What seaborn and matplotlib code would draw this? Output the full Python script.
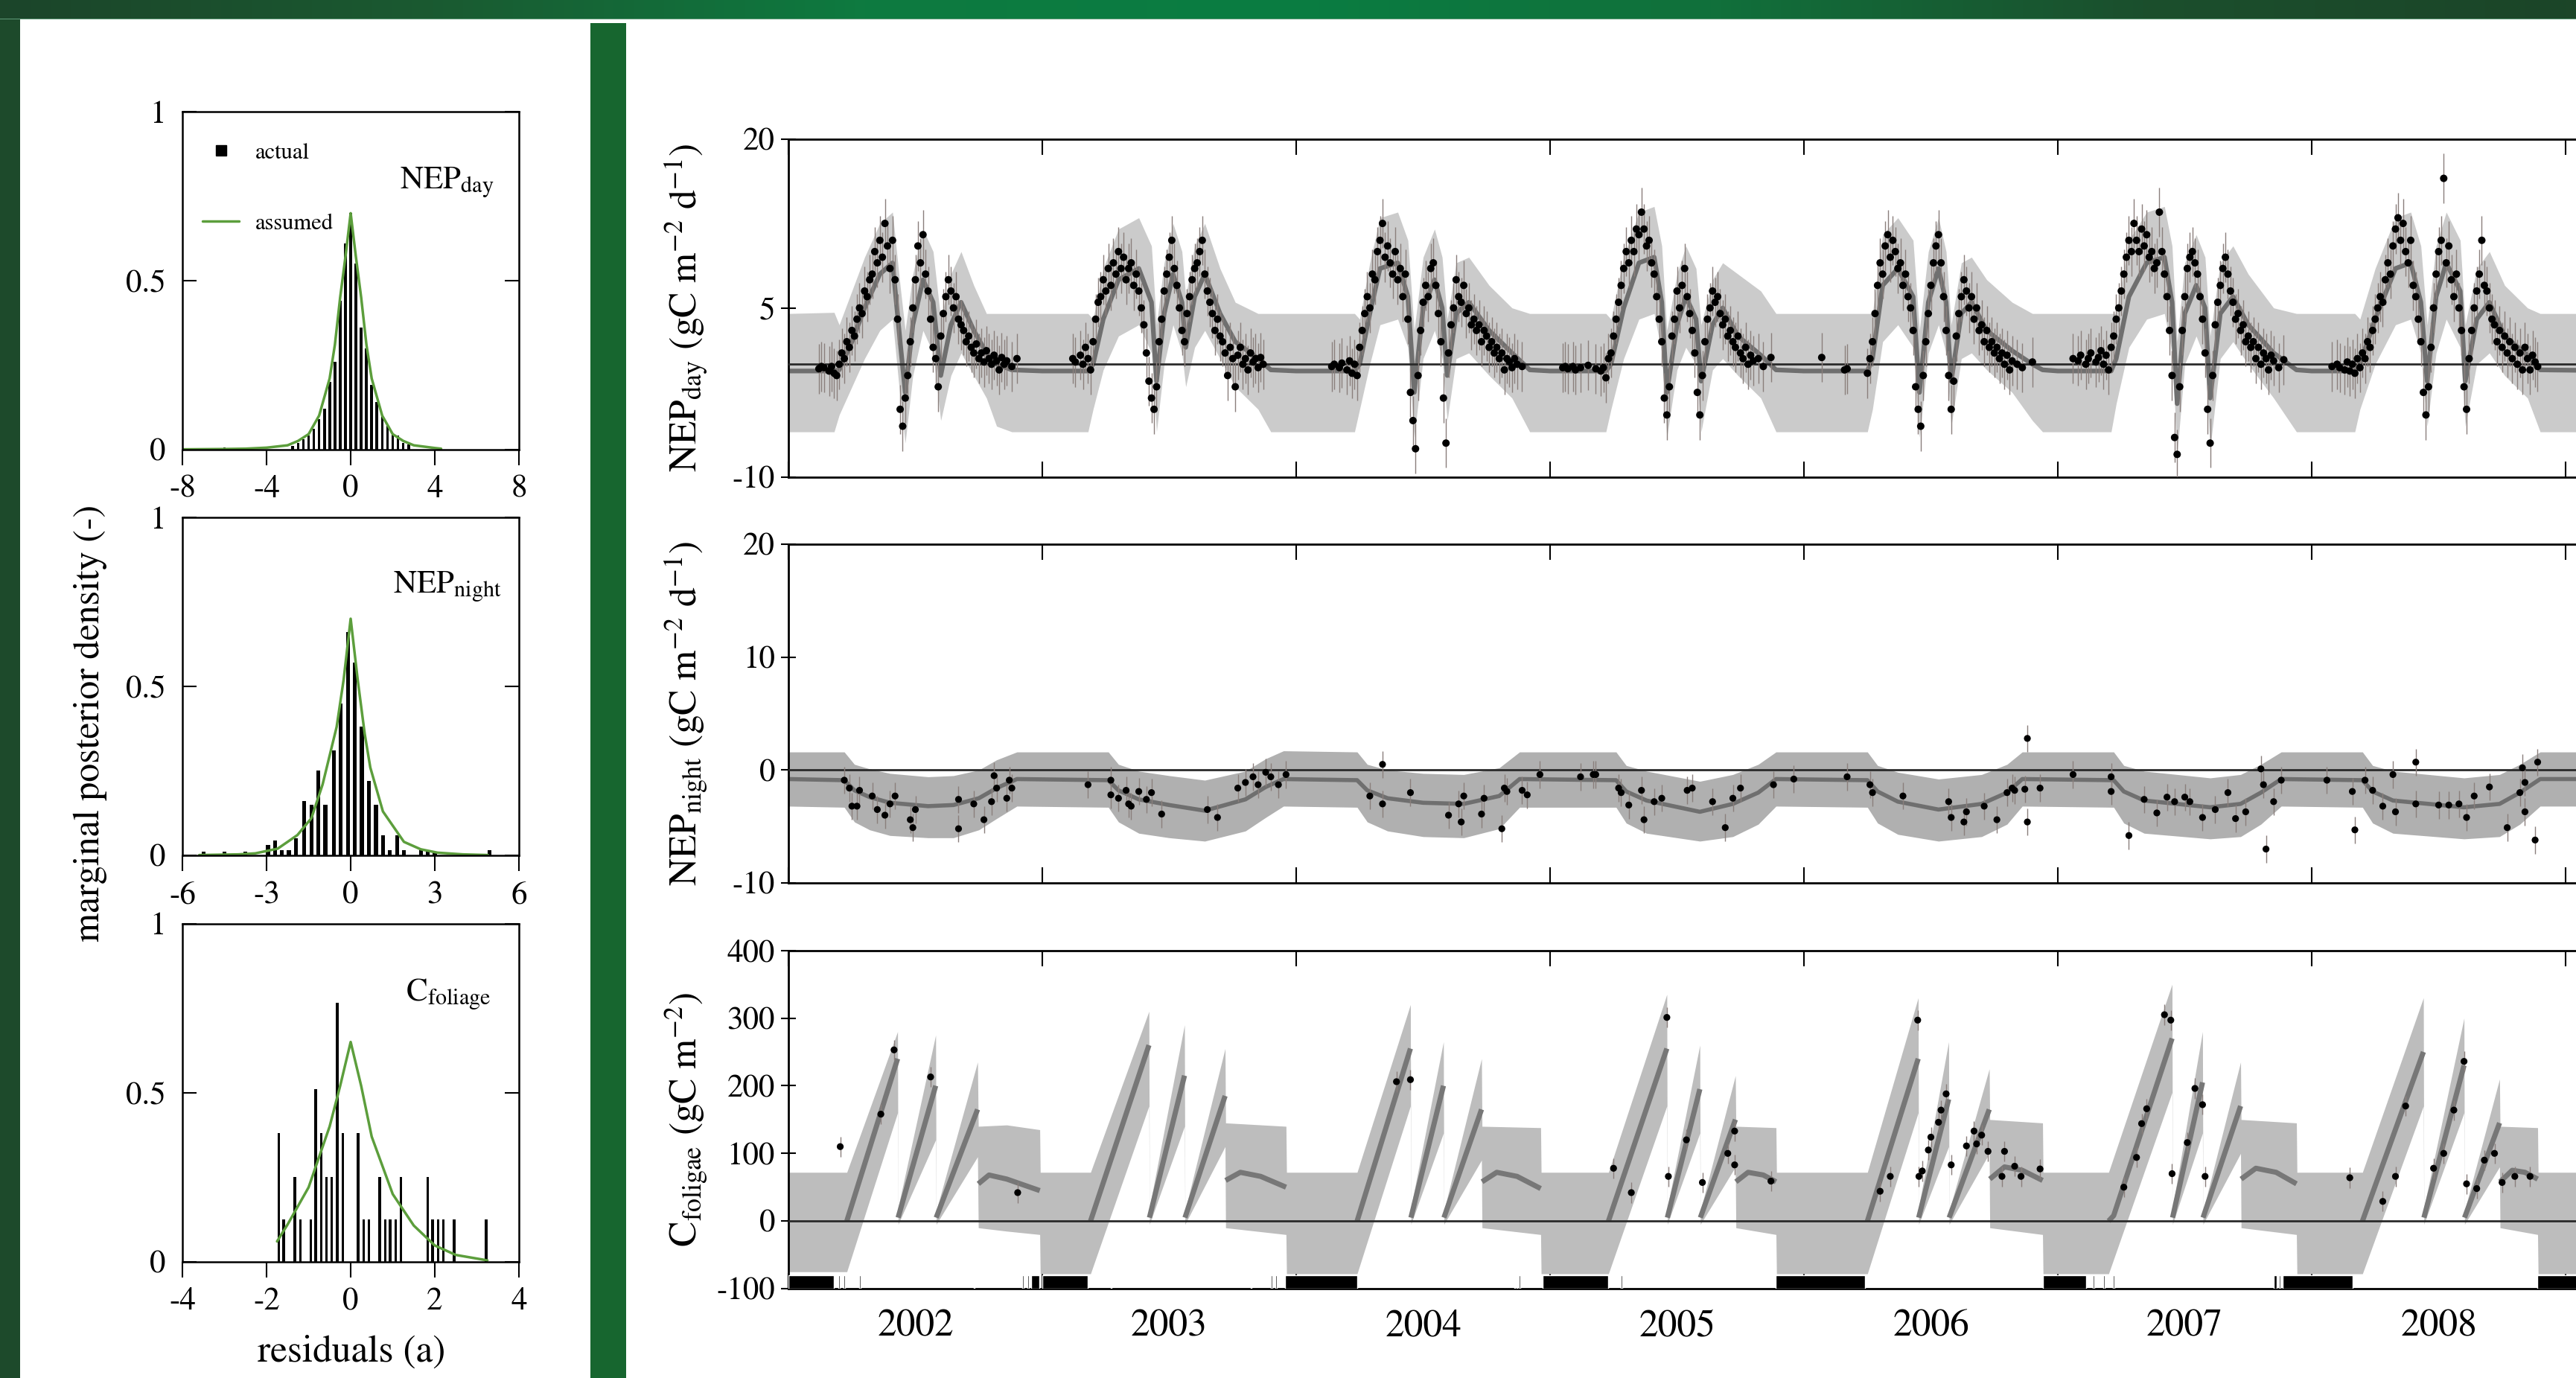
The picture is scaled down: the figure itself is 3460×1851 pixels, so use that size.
import numpy as np
import matplotlib
matplotlib.use("Agg")
import matplotlib.pyplot as plt
import seaborn as sns
from matplotlib.patches import Rectangle
from matplotlib.lines import Line2D
from matplotlib.colors import LinearSegmentedColormap

nan = np.nan

# ---------------- left panel: residual histograms ----------------
hday_x = [-6.0, -2.75, -2.5, -2.25, -2.0, -1.75, -1.5, -1.25, -1.0, -0.75, -0.5, -0.25, 0.0,
          0.25, 0.5, 0.75, 1.0, 1.25, 1.5, 1.75, 2.0, 2.25, 2.5, 2.75]
hday_h = [0.005, 0.01, 0.02, 0.03, 0.04, 0.06, 0.09, 0.12, 0.20, 0.26, 0.44, 0.61, 0.70,
          0.55, 0.36, 0.30, 0.19, 0.14, 0.10, 0.07, 0.045, 0.04, 0.02, 0.015]
cday_x = [-8, -6, -5, -4, -3, -2.5, -2, -1.5, -1, -0.75, -0.5, -0.25, 0, 0.25, 0.5, 0.75, 1,
          1.5, 2, 2.5, 3, 4, 4.3]
cday_y = [0.0, 0.001, 0.002, 0.005, 0.012, 0.025, 0.045, 0.10, 0.21, 0.31, 0.45, 0.57, 0.70,
          0.57, 0.45, 0.31, 0.21, 0.10, 0.045, 0.025, 0.012, 0.004, 0.002]

hnight_x = [-5.25, -4.5, -3.75, -2.95, -2.7, -2.45, -2.2, -1.95, -1.65, -1.4, -1.15, -0.9, -0.6,
            -0.35, -0.1, 0.15, 0.4, 0.65, 0.9, 1.15, 1.4, 1.65, 1.9, 2.5, 2.75, 3.0, 4.95]
hnight_h = [0.01, 0.01, 0.01, 0.03, 0.045, 0.015, 0.015, 0.05, 0.16, 0.15, 0.25, 0.15, 0.31,
            0.45, 0.66, 0.57, 0.38, 0.22, 0.15, 0.06, 0.015, 0.06, 0.015, 0.015, 0.01, 0.01, 0.015]
cnight_x = [-5.4, -4, -3.4, -2.6, -1.9, -1.4, -1.0, -0.5, -0.25, 0, 0.25, 0.5, 0.7, 1.15, 1.9,
            2.5, 3.1, 4, 4.9]
cnight_y = [0.001, 0.003, 0.006, 0.02, 0.06, 0.11, 0.21, 0.38, 0.52, 0.70, 0.52, 0.36, 0.26,
            0.13, 0.04, 0.018, 0.008, 0.003, 0.001]

hfol_x = [-1.71, -1.59, -1.33, -1.2, -0.95, -0.83, -0.7, -0.58, -0.45, -0.32, -0.19, 0.18, 0.31,
          0.43, 0.69, 0.82, 0.94, 1.07, 1.19, 1.83, 1.95, 2.08, 2.2, 2.46, 3.22]
hfol_h = [0.38, 0.125, 0.25, 0.125, 0.125, 0.51, 0.38, 0.25, 0.25, 0.765, 0.38, 0.38, 0.125,
          0.125, 0.25, 0.125, 0.125, 0.125, 0.25, 0.25, 0.125, 0.125, 0.125, 0.125, 0.125]
cfol_x = [-1.75, -1.5, -1.0, -0.5, -0.25, 0, 0.25, 0.5, 1.0, 1.5, 2.0, 2.5, 3.25]
cfol_y = [0.06, 0.11, 0.22, 0.40, 0.52, 0.65, 0.52, 0.37, 0.20, 0.107, 0.048, 0.02, 0.004]

# ---------------- right panel: time series ----------------
year_edges = [2002, 2003, 2004, 2005, 2006, 2007, 2008, 2009]
year_labels = ["2002", "2003", "2004", "2005", "2006", "2007", "2008"]

# NEP_day: prediction band (light), model (dark)
day_t = [2002.00, 2002.18, 2002.20, 2002.25, 2002.30, 2002.36, 2002.41, 2002.44, 2002.46, 2002.49, 2002.53, 2002.57, 2002.60, 2002.64, 2002.68, 2002.73, 2002.78, 2002.82, 2002.88,
         2003.00, 2003.18, 2003.20, 2003.24, 2003.30, 2003.38, 2003.43, 2003.45, 2003.48, 2003.515, 2003.55, 2003.565, 2003.60, 2003.64, 2003.70, 2003.76, 2003.85, 2003.90,
         2004.00, 2004.23, 2004.25, 2004.29, 2004.33, 2004.40, 2004.44, 2004.465, 2004.50, 2004.545, 2004.575, 2004.595, 2004.63, 2004.68, 2004.76, 2004.85, 2004.92,
         2005.00, 2005.22, 2005.24, 2005.29, 2005.35, 2005.41, 2005.44, 2005.46, 2005.50, 2005.535, 2005.575, 2005.595, 2005.64, 2005.68, 2005.74, 2005.83, 2005.89,
         2006.00, 2006.25, 2006.27, 2006.31, 2006.37, 2006.43, 2006.455, 2006.49, 2006.53, 2006.56, 2006.58, 2006.62, 2006.66, 2006.72, 2006.82, 2006.90, 2006.94,
         2007.00, 2007.21, 2007.23, 2007.28, 2007.35, 2007.42, 2007.45, 2007.47, 2007.50, 2007.545, 2007.58, 2007.60, 2007.64, 2007.69, 2007.75, 2007.85, 2007.94,
         2008.00, 2008.17, 2008.19, 2008.25, 2008.33, 2008.39, 2008.43, 2008.455, 2008.49, 2008.53, 2008.585, 2008.605, 2008.65, 2008.70, 2008.76, 2008.85, 2008.90, 2009.30]
day_lo = [-6.0, -6.0, -4.5, -2.0, 0.5, 3.0, 4.0, -3.0, -7.0, -1.0, 3.0, 1.0, -5.0, -1.0, 1.0, -1.0, -3.0, -5.5, -6.0,
          -6.0, -6.0, -4.0, -0.5, 2.5, 3.5, 1.0, -6.0, 0.0, 3.5, 1.0, -2.0, 1.5, 3.0, 0.5, -2.0, -4.0, -6.0,
          -6.0, -6.0, -4.0, 0.0, 3.5, 4.0, 1.5, -6.5, 0.5, 3.0, 0.5, -5.0, 0.5, 1.0, -1.0, -3.0, -6.0,
          -6.0, -6.0, -4.0, 0.5, 4.0, 4.5, 1.0, -6.5, -0.5, 1.5, 0.0, -6.0, -0.5, 0.5, -1.0, -3.0, -6.0,
          -6.0, -6.0, -4.0, 2.0, 3.5, 1.5, -6.5, 1.0, 3.5, 1.0, -5.5, 0.5, 1.0, -0.5, -2.5, -5.0, -6.0,
          -6.0, -6.0, -3.5, 1.5, 4.0, 4.5, 1.0, -8.0, 0.0, 2.5, 0.5, -7.5, 0.5, 2.0, 0.0, -3.0, -6.0,
          -6.0, -6.0, -4.0, 0.0, 3.5, 4.0, 1.0, -5.5, 1.0, 4.0, 1.5, -5.5, 0.0, 1.0, -1.0, -3.0, -6.0, -6.0]
day_hi = [4.5, 4.6, 3.5, 6.5, 9.5, 12.5, 13.5, 7.0, 3.0, 8.0, 12.0, 10.0, 4.0, 8.0, 10.0, 7.0, 4.5, 4.5, 4.5,
          4.5, 4.5, 4.0, 8.5, 12.0, 13.0, 10.5, 3.5, 9.0, 12.5, 10.0, 6.0, 10.5, 12.5, 8.5, 5.5, 4.5, 4.5,
          4.5, 4.5, 4.0, 9.0, 13.0, 13.5, 11.0, 3.0, 9.5, 12.0, 9.5, 4.0, 9.0, 9.5, 7.0, 5.0, 4.5,
          4.5, 4.5, 4.0, 9.5, 13.5, 14.0, 10.5, 3.0, 8.0, 10.5, 8.5, 3.5, 7.5, 9.0, 8.0, 6.5, 4.5,
          4.5, 4.5, 4.5, 11.5, 13.0, 11.0, 3.0, 10.0, 13.0, 10.0, 3.5, 9.0, 9.5, 7.5, 5.5, 4.5, 4.5,
          4.5, 4.5, 4.5, 11.0, 13.5, 14.0, 10.5, 2.0, 9.0, 11.5, 9.5, 2.5, 9.0, 10.5, 8.0, 5.0, 4.5,
          4.5, 4.5, 4.0, 8.5, 13.0, 13.5, 10.5, 3.5, 10.5, 13.5, 11.0, 3.5, 8.5, 10.0, 7.0, 5.0, 4.5, 4.5]
day_mod = [-0.6, -0.6, -0.5, 2.0, 5.0, 8.0, 9.0, 2.0, -2.5, 3.5, 7.5, 5.5, -1.0, 3.5, 5.5, 3.0, 1.0, 0.0, -0.5,
           -0.6, -0.6, 0.0, 4.0, 7.5, 8.5, 5.5, -1.5, 4.5, 8.0, 5.5, 1.5, 6.0, 8.0, 4.5, 2.0, 0.5, -0.5,
           -0.6, -0.6, 0.0, 4.5, 8.5, 9.0, 6.0, -2.5, 5.0, 7.5, 5.0, -1.0, 4.5, 5.5, 3.0, 1.0, -0.5,
           -0.6, -0.6, 0.0, 5.0, 9.0, 9.5, 5.5, -2.5, 3.5, 6.0, 4.0, -1.5, 3.5, 5.0, 2.5, 0.8, -0.5,
           -0.6, -0.6, 0.5, 7.0, 8.5, 6.0, -2.5, 5.5, 8.5, 5.5, -1.5, 4.5, 5.5, 3.0, 1.2, 0.0, -0.5,
           -0.6, -0.6, 0.5, 6.0, 9.0, 9.5, 5.5, -3.5, 4.5, 7.0, 5.0, -3.0, 4.5, 6.0, 3.5, 1.0, -0.5,
           -0.6, -0.6, 0.0, 4.0, 8.5, 9.0, 5.5, -1.5, 6.0, 9.0, 6.5, -1.5, 4.0, 5.5, 2.5, 0.8, -0.5, -0.6]

# NEP_day observations (sampled every 0.01 yr from the given start; nan = gap)
day_obs_start = [2002.12, 2003.12, 2004.14, 2005.05, 2006.07, 2007.06, 2008.08]
day_obs_2002 = [-0.4, -0.2, -0.3, nan, -0.6, -0.2, -0.8, -1.0, 0.0, 1.0,
                0.5, 2.0, 1.5, 3.0, 2.5, 4.0, 5.0, 4.5, 6.5, 6.0,
                7.5, 8.0, 10.0, 9.0, 11.0, 9.5, 12.5, 10.5, 8.5, 11.0,
                7.5, 4.0, -4.0, -5.5, -3.0, -1.0, 2.0, 5.0, 7.5, 10.5,
                9.0, 11.5, 8.0, 6.5, 4.0, 1.5, 0.5, -2.0, 2.5, 4.5,
                6.0, 7.5, 6.5, 5.0, 6.0, 4.0, 3.5, 3.0, 2.0, 2.5,
                1.5, 1.0, 1.8, 0.5, 1.0, 0.2, 1.2, 0.5, 0.0, 0.8,
                0.3, -0.5, 0.6, 0.0, 0.3, nan, -0.2, nan, 0.5]
day_obs_2003 = [0.5, 0.2, nan, 0.8, 0.0, 1.5, 0.5, -0.5, 2.0, 4.0,
                5.5, 6.0, 7.5, 6.5, 8.5, 7.0, 9.0, 8.0, 10.0, 8.5,
                9.5, 7.5, 8.5, 9.0, 7.0, 8.0, 6.5, 5.0, 3.5, 1.0,
                -1.5, -3.0, -4.0, -2.0, 2.0, 4.0, 6.5, 8.0, 9.5, 11.0,
                8.5, 7.0, 5.0, 3.0, 2.0, 4.5, 6.0, 7.5, 8.5, 9.0,
                10.0, 11.0, 8.0, 6.5, 5.5, 4.5, 3.0, 4.0, 2.5, 2.0,
                1.0, -1.0, 1.5, 0.5, -2.0, 0.8, 1.5, 0.0, 0.5, -0.5,
                1.0, 0.2, 0.5, -0.3, 0.6, 0.0]
day_obs_2004 = [-0.2, 0.0, nan, -0.3, 0.1, nan, -0.5, 0.3, -0.8, 0.0,
                -1.0, 1.5, 3.0, 4.5, 6.0, 5.0, 8.0, 7.5, 10.0, 11.0,
                12.5, 9.5, 10.5, 9.0, 8.0, 10.0, 7.5, 8.5, 6.0, 8.0,
                4.0, -2.5, -5.0, -7.5, -1.0, 3.0, 5.5, 7.0, 6.0, 8.5,
                9.0, 7.0, 4.5, 2.0, -3.0, -7.0, 1.0, 3.5, 5.0, 7.5,
                6.0, 5.5, 7.0, 4.5, 5.0, 3.5, 4.0, 3.0, 3.5, 2.0,
                3.0, 2.5, 1.5, 2.0, 1.0, 1.5, 0.5, 1.0, -0.5, 0.5,
                0.2, -0.3, 0.5, 0.0, nan, -0.2]
day_obs_2005 = [-0.3, -0.2, -0.4, nan, -0.2, -0.5, nan, -0.3, nan, nan,
                -0.1, nan, nan, -0.4, nan, -0.6, -0.3, -1.2, 0.5, 1.0,
                2.5, 4.0, 5.5, 7.0, 8.5, 10.0, 9.0, 11.0, 10.0, 12.0,
                11.5, 13.5, 12.0, 10.5, 11.0, 9.0, 8.0, 6.0, 4.0, 2.0,
                -3.0, -4.5, -2.0, 2.5, 4.0, 6.5, 5.0, 7.0, 8.5, 6.0,
                4.5, 3.0, 1.0, -2.5, -4.5, -1.0, 2.0, 4.0, 5.0, 6.5,
                5.5, 6.0, 4.5, 3.5, 4.0, 2.5, 3.0, 2.0, 1.5, 2.5,
                1.0, 0.5, 1.5, 0.0, 0.8, 0.3, nan, 0.5, nan, -0.2,
                nan, nan, 0.6]
day_obs_2006 = [0.6, nan, nan, nan, nan, nan, nan, nan, nan, -0.5,
                -0.4, nan, nan, nan, nan, nan, nan, nan, -0.8, 0.5,
                2.0, 4.5, 7.0, 9.0, 8.0, 10.5, 11.5, 9.5, 11.0, 10.0,
                8.5, 9.0, 7.0, 8.0, 6.0, 5.0, 3.0, -2.0, -4.0, -5.5,
                -1.0, 2.0, 4.5, 7.0, 9.0, 10.5, 11.5, 9.0, 6.0, 3.0,
                -1.0, -4.0, -1.5, 2.5, 4.5, 6.0, 7.5, 6.5, 5.0, 6.0,
                4.0, 5.0, 3.0, 3.5, 2.0, 3.0, 1.5, 2.0, 1.0, 1.5,
                0.5, 1.0, 0.0, 0.8, -0.5, 0.3, nan, 0.0, nan, -0.3,
                nan, nan, nan, 0.2]
day_obs_2007 = [0.5, nan, 0.3, 0.8, nan, 0.0, 0.5, 1.0, nan, 0.2,
                0.6, 1.2, 0.0, 0.8, -0.5, 1.5, 2.5, 4.0, 5.0, 6.5,
                8.0, 9.5, 11.0, 10.0, 12.5, 11.0, 10.0, 12.0, 10.5, 11.5,
                9.5, 10.0, 8.5, 9.0, 13.5, 10.0, 8.0, 6.0, 3.0, -1.0,
                -6.5, -8.0, -2.0, 3.0, 6.0, 8.5, 9.5, 10.0, 9.0, 8.0,
                6.0, 4.0, 1.0, -4.0, -7.0, -1.0, 3.5, 5.5, 7.0, 8.5,
                9.5, 8.0, 6.5, 5.5, 4.0, 4.5, 3.0, 3.5, 2.0, 2.5,
                1.5, 2.0, 0.5, 1.5, 0.0, 1.0, 0.5, -0.5, 0.8, 0.3,
                nan, -0.3, nan, 0.4]
day_obs_2008 = [-0.2, nan, 0.0, -0.3, nan, -0.5, 0.2, -0.6, 0.0, -0.8,
                0.5, -0.3, 1.0, 0.5, 2.0, 1.5, 3.0, 4.0, 5.0, 6.0,
                5.5, 7.5, 9.0, 8.0, 10.5, 12.0, 13.0, 11.0, 12.5, 10.0,
                9.0, 11.0, 7.0, 6.0, 4.0, 2.0, -2.5, -4.5, -2.0, 1.5,
                5.0, 8.0, 10.0, 11.0, 16.5, 9.0, 10.5, 7.5, 6.0, 8.0,
                5.0, 3.0, -2.0, -4.0, 0.5, 3.0, 5.0, 6.5, 8.0, 11.0,
                7.0, 6.5, 5.0, 4.0, 3.5, 2.0, 3.0, 1.5, 2.5, 1.0,
                2.0, 0.5, 1.5, 0.0, 1.0, -0.5, 1.5, 0.5, -0.5, 0.8,
                0.2, -0.2]
day_err = 2.2

# NEP_night
night_t = [2002.00, 2002.22, 2002.26, 2002.32, 2002.40, 2002.55, 2002.65, 2002.75, 2002.82, 2002.90,
           2003.26, 2003.30, 2003.38, 2003.50, 2003.64, 2003.80, 2003.88, 2003.95,
           2004.24, 2004.28, 2004.36, 2004.50, 2004.66, 2004.80, 2004.88,
           2005.26, 2005.30, 2005.38, 2005.59, 2005.72, 2005.82, 2005.89,
           2006.25, 2006.29, 2006.37, 2006.53, 2006.70, 2006.80, 2006.86,
           2007.22, 2007.26, 2007.34, 2007.60, 2007.72, 2007.80, 2007.88,
           2008.20, 2008.24, 2008.32, 2008.60, 2008.74, 2008.82, 2008.90, 2009.30]
night_mod = [-0.8, -0.9, -1.8, -2.4, -2.9, -3.2, -3.1, -2.5, -1.6, -0.8,
             -0.9, -1.8, -2.6, -3.1, -3.6, -2.6, -1.5, -0.8,
             -0.9, -1.8, -2.5, -2.9, -3.0, -2.3, -0.8,
             -0.9, -1.9, -2.7, -3.7, -3.0, -2.0, -0.8,
             -0.9, -1.9, -2.8, -3.5, -3.0, -2.0, -0.8,
             -0.9, -1.9, -2.7, -3.3, -3.0, -2.0, -0.8,
             -0.9, -1.9, -2.7, -3.3, -3.0, -2.0, -0.8, -0.8]
night_lo = [-3.2, -3.3, -4.6, -5.3, -5.8, -6.0, -6.0, -5.3, -4.3, -3.2,
            -3.3, -4.6, -5.6, -6.0, -6.3, -5.4, -4.2, -3.2,
            -3.3, -4.6, -5.4, -5.9, -6.0, -5.2, -3.3,
            -3.3, -4.7, -5.6, -6.3, -5.9, -4.8, -3.2,
            -3.3, -4.7, -5.7, -6.3, -5.9, -4.8, -3.2,
            -3.3, -4.7, -5.6, -6.1, -5.9, -4.8, -3.2,
            -3.3, -4.7, -5.6, -6.1, -5.9, -4.8, -3.2, -3.2]
night_hi = [1.6, 1.6, 0.5, 0.1, -0.3, -0.6, -0.5, 0.0, 0.9, 1.6,
            1.6, 0.5, -0.1, -0.5, -0.9, -0.1, 1.0, 1.7,
            1.6, 0.5, 0.0, -0.3, -0.4, 0.2, 1.6,
            1.6, 0.4, -0.1, -1.0, -0.4, 0.5, 1.6,
            1.6, 0.4, -0.2, -0.8, -0.4, 0.5, 1.6,
            1.6, 0.4, -0.1, -0.7, -0.4, 0.5, 1.6,
            1.6, 0.4, -0.1, -0.7, -0.4, 0.5, 1.6, 1.6]
night_obs_t = [2002.22, 2002.24, 2002.25, 2002.27, 2002.28, 2002.33, 2002.35, 2002.38, 2002.40, 2002.42, 2002.48, 2002.49, 2002.50, 2002.67, 2002.67, 2002.73, 2002.77, 2002.80, 2002.81, 2002.82, 2002.86, 2002.87, 2002.88,
               2003.18, 2003.27, 2003.27, 2003.30, 2003.33, 2003.34, 2003.35, 2003.38, 2003.41, 2003.43, 2003.47, 2003.65, 2003.69, 2003.77, 2003.80, 2003.83, 2003.85, 2003.88, 2003.90, 2003.93, 2003.96,
               2004.29, 2004.34, 2004.34, 2004.45, 2004.60, 2004.64, 2004.65, 2004.66, 2004.73, 2004.74, 2004.81, 2004.82, 2004.83, 2004.89, 2004.91, 2004.96,
               2005.12, 2005.17, 2005.18, 2005.27, 2005.28, 2005.31, 2005.36, 2005.37, 2005.41, 2005.44, 2005.54, 2005.56, 2005.64, 2005.69, 2005.72, 2005.75, 2005.88, 2005.96,
               2006.17, 2006.26, 2006.27, 2006.39, 2006.57, 2006.58, 2006.63, 2006.64, 2006.71, 2006.76, 2006.80, 2006.82, 2006.83, 2006.87, 2006.88, 2006.88, 2006.93,
               2007.06, 2007.21, 2007.21, 2007.28, 2007.34, 2007.39, 2007.43, 2007.46, 2007.50, 2007.52, 2007.57, 2007.62, 2007.67, 2007.70, 2007.74, 2007.80, 2007.81, 2007.82, 2007.85, 2007.88,
               2008.06, 2008.16, 2008.17, 2008.21, 2008.24, 2008.28, 2008.32, 2008.33, 2008.41, 2008.41, 2008.50, 2008.54, 2008.58, 2008.61, 2008.64, 2008.70, 2008.77, 2008.82, 2008.83, 2008.84, 2008.84, 2008.88, 2008.89]
night_obs_v = [-0.9, -1.6, -3.2, -3.2, -1.8, -2.3, -3.5, -4.0, -3.0, -2.3, -4.4, -5.1, -3.5, -5.2, -2.6, -3.0, -4.4, -2.8, -0.5, -1.6, -2.5, -0.9, -1.6,
               -1.3, -0.9, -2.2, -2.5, -1.8, -3.0, -3.2, -1.9, -2.6, -2.0, -3.9, -3.5, -4.2, -1.6, -1.1, -0.6, -1.3, -0.2, -0.6, -1.3, -0.4,
               -2.3, 0.5, -3.0, -2.0, -4.0, -3.0, -4.6, -2.3, -3.9, -2.5, -5.2, -1.6, -1.9, -1.8, -2.2, -0.4,
               -0.6, -0.4, -0.4, -1.6, -2.0, -3.1, -1.8, -4.4, -2.8, -2.5, -1.8, -1.6, -2.8, -5.1, -2.5, -1.6, -1.3, -0.8,
               -0.6, -1.3, -2.0, -2.3, -2.8, -4.2, -4.6, -3.7, -3.2, -4.4, -2.0, -1.6, -1.8, -1.7, 2.8, -4.6, -1.6,
               -0.4, -0.6, -1.9, -5.8, -2.6, -3.8, -2.4, -2.8, -2.4, -2.8, -4.2, -3.5, -2.0, -4.3, -3.7, 0.1, -1.3, -7.0, -2.8, -0.9,
               -0.9, -1.9, -5.3, -0.9, -1.8, -3.2, -0.4, -3.7, 0.7, -3.0, -3.1, -3.1, -3.0, -4.2, -2.3, -1.5, -5.1, -2.0, 0.2, -3.7, -1.1, -6.2, 0.7]
night_err = 1.2

# C_foliage
fol_t = [2002.00, 2002.23, 2002.43, 2002.432, 2002.58, 2002.582, 2002.745, 2002.748, 2002.86, 2002.99,
         2002.992, 2003.19, 2003.42, 2003.422, 2003.56, 2003.562, 2003.72, 2003.722, 2003.96,
         2003.962, 2004.24, 2004.45, 2004.452, 2004.58, 2004.582, 2004.73, 2004.732, 2004.963,
         2004.965, 2005.23, 2005.46, 2005.462, 2005.59, 2005.592, 2005.73, 2005.732, 2005.89,
         2005.892, 2006.25, 2006.45, 2006.452, 2006.57, 2006.572, 2006.73, 2006.732, 2006.94,
         2006.942, 2007.20, 2007.45, 2007.452, 2007.57, 2007.572, 2007.72, 2007.722, 2007.94,
         2007.942, 2008.20, 2008.44, 2008.442, 2008.60, 2008.602, 2008.74, 2008.742, 2008.89,
         2008.892, 2009.30]
fol_lo = [-75, -75, 160, -5, 120, -5, 95, -10, -15, -20,
          -78, -78, 170, -5, 140, -5, 110, -10, -20,
          -78, -78, 170, -5, 130, -5, 90, -10, -20,
          -78, -78, 170, -5, 130, -5, 80, -10, -20,
          -78, -78, 160, -5, 110, -5, 100, -10, -20,
          -78, -78, 190, -5, 130, -5, 100, -10, -20,
          -78, -78, 170, -5, 160, -5, 80, -10, -20,
          -78, -78]
fol_hi = [72, 72, 280, 20, 275, 15, 235, 140, 142, 135,
          72, 72, 310, 20, 290, 15, 255, 145, 140,
          72, 72, 320, 20, 265, 15, 240, 140, 138,
          72, 72, 335, 20, 260, 15, 215, 140, 138,
          72, 72, 330, 20, 265, 15, 225, 150, 145,
          72, 72, 350, 20, 280, 15, 235, 150, 145,
          72, 72, 330, 20, 300, 15, 210, 140, 138,
          72, 72]
fol_mod_t = [2002.23, 2002.43, nan, 2002.432, 2002.58, nan, 2002.582, 2002.745, nan, 2002.748, 2002.79, 2002.86, 2002.99, nan,
             2003.19, 2003.42, nan, 2003.422, 2003.56, nan, 2003.562, 2003.72, nan, 2003.722, 2003.78, 2003.86, 2003.96, nan,
             2004.24, 2004.45, nan, 2004.452, 2004.58, nan, 2004.582, 2004.73, nan, 2004.732, 2004.79, 2004.87, 2004.963, nan,
             2005.23, 2005.46, nan, 2005.462, 2005.59, nan, 2005.592, 2005.73, nan, 2005.732, 2005.78, 2005.84, 2005.89, nan,
             2006.25, 2006.45, nan, 2006.452, 2006.57, nan, 2006.572, 2006.73, nan, 2006.732, 2006.79, 2006.86, 2006.94, nan,
             2007.20, 2007.22, 2007.45, nan, 2007.452, 2007.57, nan, 2007.572, 2007.72, nan, 2007.722, 2007.78, 2007.86, 2007.94, nan,
             2008.20, 2008.44, nan, 2008.442, 2008.60, nan, 2008.602, 2008.74, nan, 2008.742, 2008.79, 2008.84, 2008.89]
fol_mod = [0, 240, nan, 5, 200, nan, 5, 165, nan, 55, 68, 62, 45, nan,
           0, 260, nan, 5, 215, nan, 5, 185, nan, 60, 72, 66, 50, nan,
           0, 255, nan, 5, 200, nan, 5, 165, nan, 58, 72, 66, 48, nan,
           0, 255, nan, 5, 195, nan, 5, 150, nan, 58, 72, 68, 58, nan,
           0, 240, nan, 5, 180, nan, 5, 165, nan, 62, 80, 75, 60, nan,
           0, 8, 270, nan, 5, 205, nan, 5, 170, nan, 62, 78, 72, 55, nan,
           0, 250, nan, 5, 230, nan, 5, 145, nan, 58, 75, 72, 62]
fol_obs_t = [2002.204, 2002.364, 2002.416, 2002.56, 2002.903, 2004.395, 2004.45,
             2005.25, 2005.32, 2005.46, 2005.466, 2005.537, 2005.60, 2005.70, 2005.727, 2005.727, 2005.87,
             2006.30, 2006.34, 2006.448, 2006.453, 2006.466, 2006.49, 2006.50, 2006.53, 2006.54, 2006.56, 2006.58,
             2006.64, 2006.67, 2006.68, 2006.70, 2006.725, 2006.78, 2006.79, 2006.83, 2006.855, 2006.93,
             2007.26, 2007.31, 2007.33, 2007.35, 2007.42, 2007.445, 2007.45, 2007.51, 2007.54, 2007.57, 2007.58,
             2008.15, 2008.28, 2008.33, 2008.37, 2008.48, 2008.52, 2008.56, 2008.60, 2008.61, 2008.65, 2008.68,
             2008.72, 2008.75, 2008.80, 2008.86]
fol_obs_v = [110, 158, 253, 213, 42, 206, 209,
             78, 42, 301, 66, 120, 57, 100, 83, 133, 59,
             44, 66, 297, 66, 74, 105, 124, 146, 164, 188, 83,
             111, 133, 114, 127, 103, 66, 103, 81, 66, 77,
             50, 94, 144, 166, 305, 297, 70, 116, 196, 172, 66,
             64, 29, 66, 170, 78, 100, 164, 236, 55, 48, 90,
             100, 57, 66, 66]
fol_err = 15
snow_start = [2002.00, 2002.197, 2002.217, 2002.28, 2002.73, 2002.92, 2002.94, 2002.957, 2003.00, 2003.27,
              2003.82, 2003.90, 2003.918, 2003.955, 2004.858, 2004.868, 2004.878, 2004.97, 2005.28, 2005.89,
              2006.94, 2007.138, 2007.178, 2007.218, 2007.85, 2007.87, 2007.885, 2008.89]
snow_width = [0.18, 0.006, 0.006, 0.004, 0.003, 0.006, 0.006, 0.03, 0.18, 0.004,
              0.004, 0.005, 0.005, 0.285, 0.004, 0.004, 0.004, 0.26, 0.004, 0.35,
              0.17, 0.006, 0.006, 0.006, 0.012, 0.008, 0.275, 0.5]

# ---------------- style ----------------
sns.set_theme(style="ticks")
plt.rcParams["font.family"] = ["STIXGeneral", "DejaVu Serif"]
plt.rcParams["mathtext.fontset"] = "stix"
for k in ["text.color", "axes.labelcolor", "xtick.color", "ytick.color", "axes.edgecolor"]:
    plt.rcParams[k] = "black"

GREEN = "#5c9e3c"
W, H = 3460, 1851
fig = plt.figure(figsize=(W / 100, H / 100), dpi=100)
fig.patch.set_facecolor("#1c4a2b")


def fy(py):
    return 1 - py / H


# background decoration
bg = fig.add_axes([0, fy(25), 1, 25 / H], zorder=-20)
bg.axis("off")
cmap = LinearSegmentedColormap.from_list(
    "g", ["#1c452a", "#1a5a31", "#0e7a40", "#0a7d42", "#11703b", "#1b4f2d", "#1c4528"])
bg.imshow(np.linspace(0, 1, 512)[None, :], aspect="auto", cmap=cmap, extent=[0, 1, 0, 1])
fig.add_artist(Rectangle((27 / W, 0), 1 - 27 / W, fy(25) - 0.0005, transform=fig.transFigure,
                         facecolor="white", edgecolor="none", zorder=-19))
fig.add_artist(Rectangle((0, 0), 27 / W, fy(25), transform=fig.transFigure,
                         facecolor="#1d4a2b", edgecolor="none", zorder=-18))
fig.add_artist(Rectangle((793 / W, 0), 48 / W, fy(31), transform=fig.transFigure,
                         facecolor="#17662f", edgecolor="none", zorder=-18))
fig.add_artist(Rectangle((0, fy(26.5)), 1, 1.5 / H, transform=fig.transFigure,
                         facecolor="#5f9a78", edgecolor="none", zorder=-17))


# ---------------- histograms ----------------
def hist_axes(top, bottom):
    return fig.add_axes([245 / W, fy(bottom), 452 / W, (bottom - top) / H])


def style_hist(ax, xlim, xticks):
    ax.set_xlim(*xlim)
    ax.set_ylim(0, 1)
    ax.set_xticks(xticks)
    ax.set_xticklabels([str(v) for v in xticks])
    ax.set_yticks([0, 0.5, 1])
    ax.set_yticklabels(["0", "0.5", "1"])
    ax.tick_params(axis="x", direction="out", length=15, width=1.5, labelsize=31, pad=10,
                   bottom=True, top=False)
    ax.tick_params(axis="y", direction="in", length=14, width=1.5, labelsize=31, pad=16,
                   left=True, right=True)
    for s in ax.spines.values():
        s.set_linewidth(1.8)
        s.set_visible(True)
    ax.set_facecolor("white")


ax_h1 = hist_axes(150.4, 603.6)
ax_h2 = hist_axes(694.8, 1149)
ax_h3 = hist_axes(1240.7, 1694.8)

ax_h1.bar(hday_x, hday_h, width=0.13, color="black", lw=0)
sns.lineplot(x=cday_x, y=cday_y, ax=ax_h1, color=GREEN, lw=2.5)
style_hist(ax_h1, (-8, 8), [-8, -4, 0, 4, 8])

ax_h2.bar(hnight_x, hnight_h, width=0.14, color="black", lw=0)
sns.lineplot(x=cnight_x, y=cnight_y, ax=ax_h2, color=GREEN, lw=2.5)
style_hist(ax_h2, (-6, 6), [-6, -3, 0, 3, 6])

ax_h3.bar(hfol_x, hfol_h, width=0.06, color="black", lw=0)
sns.lineplot(x=cfol_x, y=cfol_y, ax=ax_h3, color=GREEN, lw=2.5)
style_hist(ax_h3, (-4, 4), [-4, -2, 0, 2, 4])

ax_h1.text(0.646, 0.77, r"NEP$_{\mathrm{day}}$", transform=ax_h1.transAxes, fontsize=31, va="baseline")
ax_h2.text(0.626, 0.775, r"NEP$_{\mathrm{night}}$", transform=ax_h2.transAxes, fontsize=31, va="baseline")
ax_h3.text(0.664, 0.77, r"C$_{\mathrm{foliage}}$", transform=ax_h3.transAxes, fontsize=31, va="baseline")

handles = [Line2D([], [], marker="s", color="black", ls="none", ms=10),
           Line2D([], [], color=GREEN, lw=2.5)]
ax_h1.legend(handles, ["actual", "assumed"], loc="upper left", bbox_to_anchor=(0.06, 0.91),
             frameon=False, fontsize=22, labelspacing=2.2, handlelength=1.6, handletextpad=0.7,
             borderpad=0, borderaxespad=0)

fig.text(121 / W, fy(971), "marginal posterior density (-)", rotation=90, fontsize=36,
         ha="center", va="center")
fig.text(472 / W, fy(1817), "residuals (a)", fontsize=37, ha="center", va="center")

# ---------------- time series ----------------
X0, YPX = 1059, 341
XMAX = 2009.25
AXW = (XMAX - 2002) * YPX


def ts_axes(top, bottom):
    return fig.add_axes([X0 / W, fy(bottom), AXW / W, (bottom - top) / H])


def style_ts(ax, ylim, yticks, label):
    ax.set_xlim(2002, XMAX)
    ax.set_ylim(*ylim)
    ax.set_yticks(yticks)
    ax.set_yticklabels([str(v) for v in yticks])
    ax.set_xticks(year_edges)
    ax.set_xticklabels([])
    ax.tick_params(axis="x", which="major", direction="in", length=15, width=1.5,
                   top=True, bottom=True, labelbottom=False)
    ax.tick_params(axis="y", direction="inout", length=14, width=1.5, labelsize=31, pad=6,
                   left=True, right=False)
    for s in ax.spines.values():
        s.set_linewidth(2.0)
        s.set_visible(True)
    ax.axhline(0, color="#2a2a2a", lw=2.0, zorder=3)
    ax.set_ylabel(label, fontsize=37)
    ax.yaxis.set_label_coords(-0.043, 0.5)
    ax.set_facecolor("white")


ax_d = ts_axes(186.6, 640.6)
ax_n = ts_axes(731, 1186)
ax_f = ts_axes(1276.7, 1731)

# NEP_day
ax_d.fill_between(day_t, day_lo, day_hi, color="#cbcbcb", lw=0, zorder=1)
ax_d.plot(day_t, day_mod, color="#6f6f6f", lw=4.5, zorder=2)
obs_lists = [day_obs_2002, day_obs_2003, day_obs_2004, day_obs_2005, day_obs_2006,
             day_obs_2007, day_obs_2008]
dt, dv = [], []
for start, vals in zip(day_obs_start, obs_lists):
    dt.extend(start + 0.01 * np.arange(len(vals)))
    dv.extend(vals)
dt, dv = np.array(dt), np.array(dv)
ax_d.errorbar(dt, dv, yerr=day_err, fmt="none", ecolor="#8a7f7c", elinewidth=1.0, zorder=4)
sns.scatterplot(x=dt, y=dv, ax=ax_d, color="black", s=52, edgecolor="none", zorder=5, legend=False)
style_ts(ax_d, (-10, 20), [-10, 5, 20], r"NEP$_{\mathrm{day}}$ (gC m$^{-2}$ d$^{-1}$)")

# NEP_night
ax_n.fill_between(night_t, night_lo, night_hi, color="#b0b0b0", lw=0, zorder=1)
ax_n.plot(night_t, night_mod, color="#6f6f6f", lw=4, zorder=2)
ax_n.errorbar(night_obs_t, night_obs_v, yerr=night_err, fmt="none", ecolor="#8a7f7c",
              elinewidth=1.0, zorder=4)
sns.scatterplot(x=night_obs_t, y=night_obs_v, ax=ax_n, color="black", s=44, edgecolor="none",
                zorder=5, legend=False)
style_ts(ax_n, (-10, 20), [-10, 0, 10, 20], r"NEP$_{\mathrm{night}}$ (gC m$^{-2}$ d$^{-1}$)")

# C_foliage
ax_f.fill_between(fol_t, fol_lo, fol_hi, color="#bdbdbd", lw=0, zorder=1)
ax_f.plot(fol_mod_t, fol_mod, color="#777777", lw=5, zorder=2, solid_capstyle="butt")
ax_f.broken_barh(list(zip(snow_start, snow_width)), (-100, 20), facecolors="black", zorder=3)
ax_f.errorbar(fol_obs_t, fol_obs_v, yerr=fol_err, fmt="none", ecolor="#8a7f7c", elinewidth=1.0,
              zorder=4)
sns.scatterplot(x=fol_obs_t, y=fol_obs_v, ax=ax_f, color="black", s=44, edgecolor="none",
                zorder=5, legend=False)
style_ts(ax_f, (-100, 400), [-100, 0, 100, 200, 300, 400], r"C$_{\mathrm{foligae}}$ (gC m$^{-2}$)")
ax_f.set_xticks([y + 0.5 for y in year_edges[:-1]], minor=True)
ax_f.set_xticklabels(year_labels, minor=True, fontsize=37)
ax_f.tick_params(axis="x", which="minor", length=0, pad=20, labelbottom=True)

fig.savefig("out.png", dpi=100, facecolor=fig.get_facecolor())
